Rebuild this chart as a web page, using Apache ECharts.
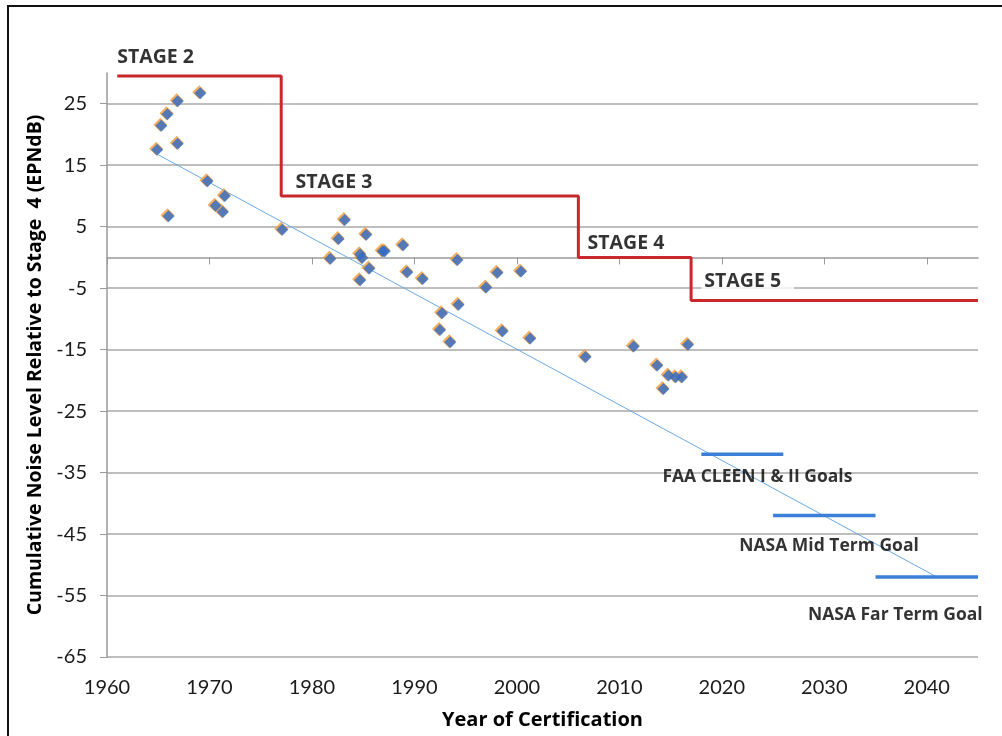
<!DOCTYPE html>
<html>
<head>
<meta charset="utf-8">
<title>Cumulative noise level by year of certification</title>
<script src="https://cdn.jsdelivr.net/npm/echarts@6/dist/echarts.min.js"></script>
<style>
  html, body { margin: 0; padding: 0; background: #fff; }
  #chart { width: 1002px; height: 736px; }
</style>
</head>
<body>
<div id="chart"></div>
<script>
// certified aircraft: year and cumulative level relative to Stage 4 (EPNdB)
const certYears = [1964.9, 1965.3, 1965.9, 1966.9, 1969.1, 1966.9, 1966.0, 1969.8, 1971.5, 1970.6, 1971.3, 1977.1,
  1983.2, 1982.6, 1985.3, 1981.8, 1984.7, 1984.9, 1985.6, 1984.7, 1986.9, 1987.1, 1988.9, 1989.3, 1990.8,
  1994.2, 1992.7, 1994.3, 1992.5, 1993.5, 1997.0, 1998.1, 2000.4, 1998.6, 2001.3,
  2006.7, 2011.4, 2016.7, 2013.7, 2014.8, 2015.5, 2016.1, 2014.3];
const certLevels = [17.5, 21.4, 23.3, 25.4, 26.7, 18.5, 6.7, 12.4, 10.0, 8.4, 7.4, 4.5,
  6.1, 3.0, 3.7, -0.2, 0.5, -0.1, -1.8, -3.7, 1.0, 1.0, 2.0, -2.4, -3.5,
  -0.4, -9.1, -7.7, -11.8, -13.8, -4.9, -2.5, -2.3, -12.0, -13.2,
  -16.2, -14.5, -14.2, -17.6, -19.2, -19.5, -19.5, -21.4];

// certification stage limits (step line)
const stageNames = ["STAGE 2", "STAGE 3", "STAGE 4", "STAGE 5"];
const stageYears = [1961, 1977, 2006, 2017, 2045];
const stageLevels = [29.5, 10, 0, -7, -7];

// research goals
const goalNames = ["FAA CLEEN I & II Goals", "NASA Mid Term Goal", "NASA Far Term Goal"];
const goalStart = [2018, 2025, 2035];
const goalEnd = [2026, 2035, 2045];
const goalLevels = [-32, -42, -52];

// linear trend
const trendYears = [1965, 2041];
const trendLevels = [16.7, -52];

const yTicks = [-65, -55, -45, -35, -25, -15, -5, 5, 15, 25];

const pairs = (xs, ys) => xs.map((x, i) => [x, ys[i]]);

const boldFont = "Open Sans";
const labelFont = { fontFamily: boldFont, fontWeight: "bold", color: "#000" };
const noteLabel = (text, x, y, size, extra) => ({
  value: [x, y],
  label: Object.assign({ formatter: text, fontSize: size }, extra || {}),
});

const chart = echarts.init(document.getElementById("chart"));

const goalSeries = goalNames.map((name, i) => ({
  name: name,
  type: "line",
  data: [[goalStart[i], goalLevels[i]], [goalEnd[i], goalLevels[i]]],
  symbol: "none",
  lineStyle: { color: "#3b7fd8", width: 3.5 },
  z: 3,
}));

chart.setOption({
  backgroundColor: "#fff",
  animation: false,
  graphic: [
    {
      type: "polyline",
      shape: { points: [[8, 740], [8, 6], [1010, 6]] },
      style: { stroke: "#111", lineWidth: 2, fill: null },
    },
  ],
  grid: { left: 107, right: 24, top: 73, bottom: 79 },
  xAxis: {
    type: "value",
    min: 1960,
    max: 2045,
    interval: 10,
    name: "Year of Certification",
    nameLocation: "middle",
    nameGap: 53,
    nameTextStyle: { fontFamily: boldFont, fontWeight: "bold", fontSize: 20, color: "#000" },
    axisLine: { show: true, lineStyle: { color: "#9a9a9a", width: 1.5 } },
    axisTick: { show: true, length: 7, lineStyle: { color: "#9a9a9a" } },
    axisLabel: {
      fontFamily: "Lato",
      fontSize: 20,
      color: "#1a1a1a",
      margin: 21,
      showMaxLabel: false,
      formatter: (v) => String(v),
    },
    splitLine: { show: false },
  },
  yAxis: {
    type: "value",
    min: -65,
    max: 30,
    interval: 10,
    name: "Cumulative Noise Level Relative to Stage  4 (EPNdB)",
    nameLocation: "middle",
    nameGap: 60,
    nameTextStyle: { fontFamily: boldFont, fontWeight: "bold", fontSize: 19.5, color: "#000" },
    axisLine: { show: true, lineStyle: { color: "#9a9a9a", width: 1.5 } },
    axisTick: { show: true, length: 7, lineStyle: { color: "#9a9a9a" } },
    axisLabel: {
      fontFamily: "Lato",
      fontSize: 20,
      color: "#1a1a1a",
      margin: 20,
      showMaxLabel: false,
      formatter: (v) => (yTicks.indexOf(v) >= 0 ? String(v) : ""),
    },
    splitLine: { show: true, showMaxLine: false, lineStyle: { color: "#a8a8a8", width: 1.5 } },
  },
  series: [
    {
      name: "Trend",
      type: "line",
      data: pairs(trendYears, trendLevels),
      symbol: "none",
      lineStyle: { color: "#6aaae6", width: 1 },
      z: 2,
    },
    ...goalSeries,
    {
      name: "Stage limits",
      type: "line",
      step: "end",
      data: pairs(stageYears, stageLevels),
      symbol: "none",
      lineStyle: { color: "#c8282c", width: 3 },
      z: 4,
    },
    {
      name: "Certifications (shade)",
      type: "scatter",
      data: pairs(certYears, certLevels),
      symbol: "diamond",
      symbolSize: 14,
      symbolOffset: [-1, -1],
      itemStyle: { color: "#f39a33" },
      z: 5,
    },
    {
      name: "Certifications",
      type: "scatter",
      data: pairs(certYears, certLevels),
      symbol: "diamond",
      symbolSize: 12,
      itemStyle: { color: "#2f6cc9" },
      z: 6,
    },
    {
      name: "Notes",
      type: "scatter",
      symbolSize: 0,
      clip: false,
      silent: true,
      z: 7,
      label: Object.assign({ show: true, position: "right", distance: 0 }, labelFont),
      data: [
        noteLabel(stageNames[0], 1961, 32.5, 19.5),
        noteLabel(stageNames[1], 1978.4, 12.2, 19.5),
        noteLabel(stageNames[2], 2006.9, 2.2, 19.5),
        noteLabel(stageNames[3], 2018.0, -3.9, 19.5, { backgroundColor: "#fff", padding: [2, 13, 2, 3] }),
        noteLabel(goalNames[0], 2014.2, -35.8, 17.5),
        noteLabel(goalNames[1], 2021.7, -46.9, 17.5),
        noteLabel(goalNames[2], 2028.4, -58.2, 17.5),
      ],
    },
  ],
});
</script>
</body>
</html>
